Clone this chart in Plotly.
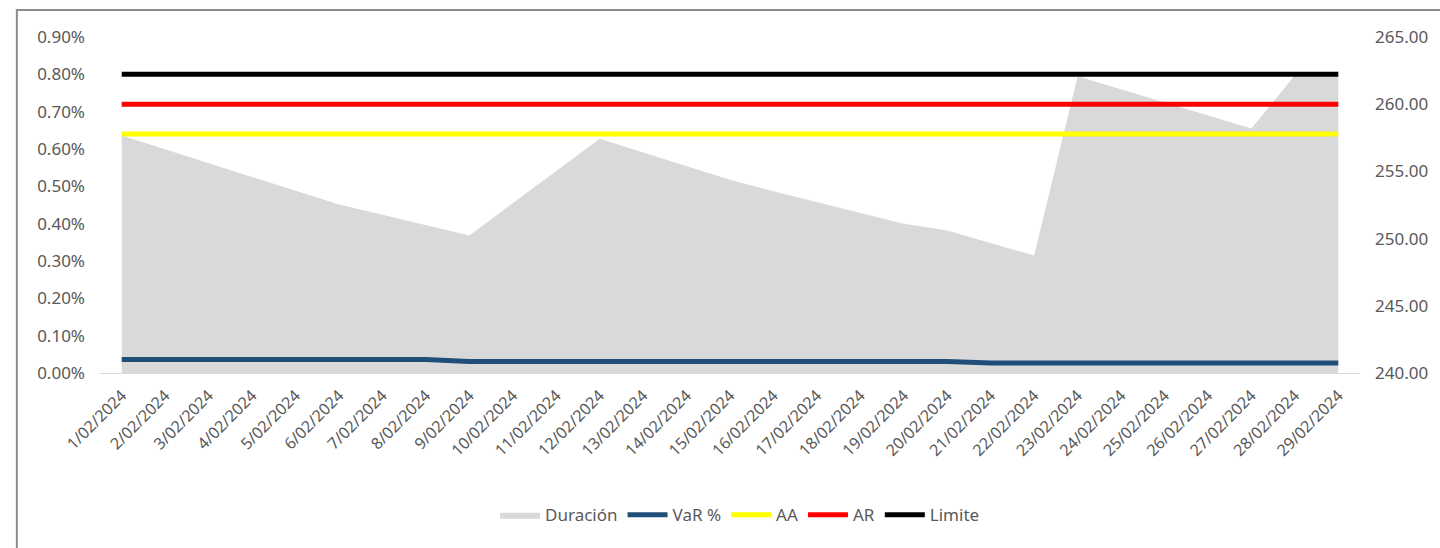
import plotly.graph_objects as go

# ---------------------------------------------------------
# DATA
# ---------------------------------------------------------
fechas = [f"{d}/02/2024" for d in range(1, 30)]

duracion = [
    257.67, 256.64, 255.62, 254.59, 253.56, 252.54, 251.77, 251.00, 250.23, 252.63,
    255.02, 257.43, 256.41, 255.39, 254.38, 253.53, 252.71, 251.92, 251.10, 250.60,
    249.69, 248.74, 262.08, 261.11, 260.13, 259.17, 258.19, 262.13, 262.13,
]

var_pct = [
    0.00036, 0.00036, 0.00036, 0.00036, 0.00036, 0.00036, 0.00036, 0.00036, 0.00031, 0.00031,
    0.00031, 0.00031, 0.00031, 0.00031, 0.00031, 0.00031, 0.00031, 0.00031, 0.00031, 0.00031,
    0.00027, 0.00027, 0.00027, 0.00027, 0.00027, 0.00027, 0.00027, 0.00027, 0.00027,
]

AA_VAL = 0.0064
AR_VAL = 0.0072
LIMITE_VAL = 0.0080

aa = [AA_VAL] * len(fechas)
ar = [AR_VAL] * len(fechas)
limite = [LIMITE_VAL] * len(fechas)

# ---------------------------------------------------------
# STYLE
# ---------------------------------------------------------
FONT = "Noto Sans"
TXT = "#595959"
LW = 5

fig = go.Figure()

# area on the primary (right side) axis so the lines sit on top of it
fig.add_trace(go.Scatter(
    x=fechas, y=duracion, name="Duración",
    mode="lines", fill="tozeroy",
    fillcolor="#D9D9D9", line=dict(width=0, color="#D9D9D9"),
    yaxis="y"
))

fig.add_trace(go.Scatter(
    x=fechas, y=var_pct, name="VaR %",
    mode="lines", line=dict(color="#1F4E79", width=LW),
    yaxis="y2"
))
fig.add_trace(go.Scatter(
    x=fechas, y=aa, name="AA",
    mode="lines", line=dict(color="#FFFF00", width=LW),
    yaxis="y2"
))
fig.add_trace(go.Scatter(
    x=fechas, y=ar, name="AR",
    mode="lines", line=dict(color="#FF0000", width=LW),
    yaxis="y2"
))
fig.add_trace(go.Scatter(
    x=fechas, y=limite, name="Limite",
    mode="lines", line=dict(color="#000000", width=LW),
    yaxis="y2"
))

# chart border (Excel-like frame)
fig.add_shape(
    type="rect", xref="paper", yref="paper",
    x0=-0.066, x1=1.2, y0=-0.8, y1=1.08,
    line=dict(color="#8C8C8C", width=2), layer="below"
)

fig.update_layout(
    width=1440, height=548,
    margin=dict(l=100, r=80, t=37, b=175),
    paper_bgcolor="white", plot_bgcolor="white",
    font=dict(family=FONT, size=17, color=TXT),
    showlegend=True,
    legend=dict(
        orientation="h", x=0.508, xanchor="center",
        y=-0.423, yanchor="middle",
        font=dict(family=FONT, size=17, color=TXT),
        itemwidth=40, tracegroupgap=0
    ),
    xaxis=dict(
        type="category",
        range=[-0.5, len(fechas) - 0.5],
        tickangle=-45,
        showgrid=False, zeroline=False,
        showline=True, linecolor="#D9D9D9", linewidth=1,
        ticks="", ticklabelstandoff=6,
        tickfont=dict(family=FONT, size=16, color=TXT)
    ),
    yaxis=dict(
        side="right",
        range=[240, 265], dtick=5, tickformat=".2f",
        showgrid=False, zeroline=False, showline=False,
        ticks="", ticklabelstandoff=14,
        tickfont=dict(family=FONT, size=17, color=TXT)
    ),
    yaxis2=dict(
        overlaying="y", side="left",
        range=[0, 0.009], dtick=0.001, tickformat=".2%",
        showgrid=False, zeroline=False, showline=False,
        ticks="", ticklabelstandoff=14,
        tickfont=dict(family=FONT, size=17, color=TXT)
    ),
)

# drop the default body margin so the figure sits at the window origin
fig.write_html(
    "out.html",
    config={"displayModeBar": False},
    post_script="document.body.style.margin='0px';",
)
